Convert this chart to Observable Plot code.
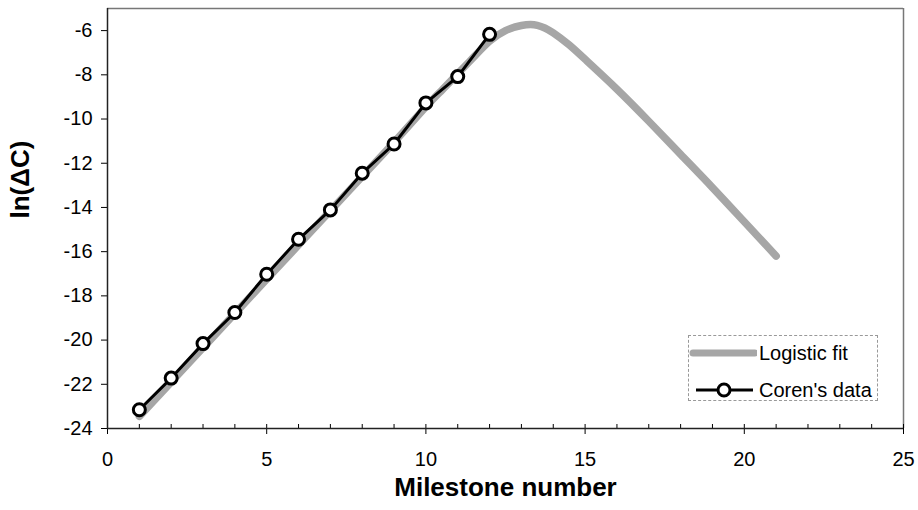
<!DOCTYPE html>
<html>
<head>
<meta charset="utf-8">
<script src="https://cdn.jsdelivr.net/npm/d3@7"></script>
<script src="https://cdn.jsdelivr.net/npm/@observablehq/plot@0.6"></script>
<style>
  html, body { margin: 0; padding: 0; background: #fff; }
  #wrap { position: relative; width: 918px; height: 510px; font-family: "Liberation Sans", Arial, sans-serif; }
  #legend { position: absolute; left: 688px; top: 335px; width: 190px; height: 66px;
            border: 1px dashed #999; box-sizing: border-box; background: #fff; font-size: 20px; color: #000; }
  .item { position: absolute; left: 0; height: 24px; display: flex; align-items: center; }
  .item svg { display: block; }
  .item span { margin-left: 2px; }
</style>
</head>
<body>
<div id="wrap">
  <div id="chart"></div>
  <div id="legend">
    <div class="item" style="top:5px;">
      <svg width="68" height="24"><line x1="4" y1="12" x2="66" y2="12" stroke="#a6a6a6" stroke-width="7" stroke-linecap="round"/></svg>
      <span>Logistic fit</span>
    </div>
    <div class="item" style="top:42px;">
      <svg width="68" height="24"><line x1="7" y1="12" x2="64" y2="12" stroke="#000" stroke-width="3"/><circle cx="35" cy="12" r="6" fill="#fff" stroke="#000" stroke-width="3"/></svg>
      <span>Coren's data</span>
    </div>
  </div>
</div>
<script>
// Coren's data (milestone number, ln ΔC)
const milestones = [1, 2, 3, 4, 5, 6, 7, 8, 9, 10, 11, 12];
const lnDeltaC = [-23.15, -21.72, -20.16, -18.75, -17.02, -15.44, -14.11, -12.45, -11.13, -9.27, -8.08, -6.17];

// Logistic fit curve
const fitX = [1, 2, 3, 4, 5, 6, 7, 8, 9, 10, 10.5, 11, 11.5, 12, 12.5, 13, 13.5, 14, 14.5, 15, 16, 17, 18, 19, 20, 21];
const fitY = [-23.45, -21.9, -20.35, -18.8, -17.25, -15.7, -14.15, -12.6, -11.05, -9.45, -8.7, -7.95, -7.2, -6.48, -6.0, -5.77, -5.76, -6.1, -6.65, -7.3, -8.65, -10.1, -11.6, -13.1, -14.65, -16.2];

const xTicks = [0, 5, 10, 15, 20, 25];
const xMinorTicks = d3.range(0, 26);
const yTicks = [-24, -22, -20, -18, -16, -14, -12, -10, -8, -6];

const data = milestones.map((m, i) => ({x: m, y: lnDeltaC[i]}));
const fit = fitX.map((x, i) => ({x, y: fitY[i]}));

const chart = Plot.plot({
  width: 918,
  height: 510,
  marginLeft: 107,
  marginRight: 15,
  marginTop: 8,
  marginBottom: 82,
  style: {fontFamily: "'Liberation Sans', Arial, sans-serif", fontSize: "20px", color: "#000", background: "#fff"},
  x: {domain: [0, 25]},
  y: {domain: [-24, -5]},
  marks: [
    Plot.ruleY([-5], {stroke: "#777", strokeWidth: 1.5}),
    Plot.ruleX([25], {stroke: "#777", strokeWidth: 1.5}),
    Plot.axisY({ticks: yTicks, tickSize: 6, tickPadding: 9, tickFormat: d => String(d), label: null, fontSize: 20}),
    Plot.axisX({ticks: xTicks, tickSize: 6, tickPadding: 17, label: null, fontSize: 20}),
    Plot.axisX({ticks: xMinorTicks, anchor: "top", frameAnchor: "bottom", tickSize: 5, tickFormat: () => "", label: null}),
    Plot.ruleY([-24], {stroke: "#222", strokeWidth: 1.5}),
    Plot.ruleX([0], {stroke: "#222", strokeWidth: 1.5}),
    Plot.line(fit, {x: "x", y: "y", stroke: "#a6a6a6", strokeWidth: 7.5, strokeLinecap: "round", curve: "natural"}),
    Plot.line(data, {x: "x", y: "y", stroke: "#000", strokeWidth: 3}),
    Plot.dot(data, {x: "x", y: "y", r: 6, fill: "#fff", stroke: "#000", strokeWidth: 3}),
    Plot.text(["ln(ΔC)"], {frameAnchor: "left", dx: -87, rotate: -90, fontSize: 26, fontWeight: "bold"}),
    Plot.text(["Milestone number"], {frameAnchor: "bottom", dy: 67, fontSize: 26, fontWeight: "bold"})
  ]
});
document.getElementById("chart").appendChild(chart);
</script>
</body>
</html>
